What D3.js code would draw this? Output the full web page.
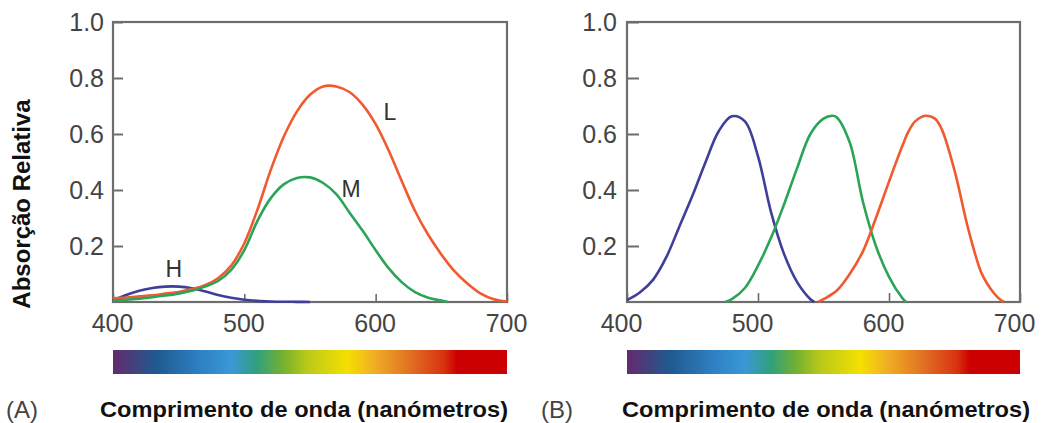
<!DOCTYPE html>
<html>
<head>
<meta charset="utf-8">
<script src="https://cdn.jsdelivr.net/npm/d3@7"></script>
<style>
  body { margin: 0; background: #fff; }
  svg { display: block; font-family: "Liberation Sans", Arial, sans-serif; }
</style>
</head>
<body>
<div id="chart"></div>
<script>
// panel A: absorption curves of the three pigments (H, M, L)
const hWave = [400, 410, 420, 430, 440, 450, 460, 470, 480, 490, 500, 510, 520, 530, 540, 550];
const hAbs  = [0.005, 0.025, 0.04, 0.05, 0.055, 0.055, 0.049, 0.038, 0.025, 0.015, 0.008, 0.004, 0.002, 0.001, 0.0005, 0];

const mWave = [400, 410, 420, 430, 440, 450, 460, 470, 480, 490, 500, 510, 520, 530, 540, 550, 560, 570, 580, 590, 600, 610, 620, 630, 640, 650, 655];
const mAbs  = [0.005, 0.008, 0.012, 0.017, 0.023, 0.03, 0.04, 0.055, 0.075, 0.115, 0.185, 0.29, 0.37, 0.42, 0.443, 0.445, 0.425, 0.385, 0.32, 0.255, 0.185, 0.12, 0.07, 0.035, 0.015, 0.005, 0];

const lWave = [400, 410, 420, 430, 440, 450, 460, 470, 480, 490, 500, 510, 520, 530, 540, 550, 560, 570, 580, 590, 600, 610, 620, 630, 640, 650, 660, 670, 680, 690, 700];
const lAbs  = [0.013, 0.016, 0.02, 0.024, 0.03, 0.036, 0.046, 0.06, 0.085, 0.13, 0.21, 0.33, 0.47, 0.59, 0.68, 0.74, 0.77, 0.77, 0.75, 0.705, 0.635, 0.54, 0.43, 0.325, 0.24, 0.17, 0.11, 0.065, 0.03, 0.01, 0.002];

// panel B: three idealised receptors
const bWave = [400, 410, 420, 430, 440, 450, 460, 470, 480, 490, 500, 510, 520, 530, 540, 543];
const bAbs  = [0.007, 0.035, 0.08, 0.16, 0.27, 0.38, 0.5, 0.61, 0.663, 0.645, 0.52, 0.32, 0.17, 0.07, 0.01, 0];

const gWave = [475, 480, 490, 500, 510, 520, 530, 540, 550, 557, 560, 570, 580, 590, 600, 610, 613];
const gAbs  = [0, 0.01, 0.05, 0.13, 0.23, 0.35, 0.48, 0.6, 0.655, 0.665, 0.66, 0.57, 0.36, 0.2, 0.09, 0.015, 0];

const rWave = [546, 550, 560, 570, 580, 590, 600, 610, 615, 620, 628, 635, 640, 650, 660, 670, 675, 680, 685, 688];
const rAbs  = [0, 0.01, 0.04, 0.1, 0.18, 0.3, 0.43, 0.555, 0.61, 0.645, 0.665, 0.655, 0.62, 0.47, 0.27, 0.11, 0.065, 0.032, 0.008, 0];

const xTicks = [400, 500, 600, 700];
const yTicks = [0.2, 0.4, 0.6, 0.8, 1.0];

// letters next to the curves of panel A
const curveLabels = ["L", "M", "H"];
const labelWave = [606, 574, 440];
const labelAbs = [0.65, 0.376, 0.09];

// spectrum bar colours
const spectrumStops = [0, 0.11, 0.22, 0.30, 0.365, 0.43, 0.49, 0.594, 0.66, 0.755, 0.84, 0.873, 1];
const spectrumColors = ["#652a6c", "#1f5a90", "#2e80c2", "#3a98d6", "#30a07e", "#72b032", "#b8c81a", "#f5e000", "#f0b024", "#e07022", "#d83210", "#cc0000", "#cc0000"];

const width = 1043, height = 423;
const red = "#f15a2e", green = "#2aa556", blue = "#3e3f98";

const svg = d3.select("#chart").append("svg")
  .attr("width", width)
  .attr("height", height);

const grad = svg.append("defs").append("linearGradient")
  .attr("id", "spectrum")
  .attr("x1", "0%").attr("x2", "100%").attr("y1", "0%").attr("y2", "0%");
grad.selectAll("stop")
  .data(spectrumStops)
  .join("stop")
  .attr("offset", d => d)
  .attr("stop-color", (d, i) => spectrumColors[i]);

function drawPanel(opt) {
  const x = d3.scaleLinear().domain([400, 700]).range([opt.left, opt.right]);
  const y = d3.scaleLinear().domain([0, 1]).range([302, 22]);

  const g = svg.append("g");

  // x axis, ticks pointing inside
  g.append("g")
    .attr("transform", `translate(0,${y(0)})`)
    .call(d3.axisBottom(x).tickValues(xTicks).tickFormat(d3.format("d")).tickSize(-opt.xTick).tickPadding(12))
    .call(a => a.select(".domain").remove())
    .call(a => a.selectAll("line").attr("stroke", "#6d6d6d").attr("stroke-width", 1.6))
    .call(a => a.selectAll("text").attr("font-size", 25).attr("fill", "#444").attr("dx", opt.xdx));

  // y axis
  g.append("g")
    .attr("transform", `translate(${x(400)},0)`)
    .call(d3.axisLeft(y).tickValues(yTicks).tickFormat(d3.format(".1f")).tickSize(-opt.yTick).tickPadding(opt.ypad))
    .call(a => a.select(".domain").remove())
    .call(a => a.selectAll("line").attr("stroke", "#6d6d6d").attr("stroke-width", 2))
    .call(a => a.selectAll("text").attr("font-size", 25).attr("fill", "#444"));

  // frame
  g.append("rect")
    .attr("x", x(400)).attr("y", y(1))
    .attr("width", x(700) - x(400)).attr("height", y(0) - y(1))
    .attr("fill", "none").attr("stroke", "#6d6d6d").attr("stroke-width", 2.2);

  const line = d3.line()
    .x(d => x(d[0]))
    .y(d => y(d[1]))
    .curve(d3.curveCatmullRom.alpha(0.5));

  opt.series.forEach(s => {
    g.append("path")
      .datum(d3.zip(s.wave, s.abs))
      .attr("fill", "none")
      .attr("stroke", s.color)
      .attr("stroke-width", 2.6)
      .attr("d", line);
  });

  // spectrum bar under the plot
  g.append("rect")
    .attr("x", x(400)).attr("y", 350)
    .attr("width", x(700) - x(400)).attr("height", 24)
    .attr("fill", "url(#spectrum)");

  g.append("text")
    .attr("x", opt.tagX).attr("y", 418)
    .attr("font-size", 24).attr("fill", "#444")
    .text(opt.tag);

  g.append("text")
    .attr("x", opt.titleX).attr("y", 417)
    .attr("font-size", 22).attr("font-weight", "bold").attr("fill", "#111")
    .attr("textLength", 408).attr("lengthAdjust", "spacingAndGlyphs")
    .text("Comprimento de onda (nanómetros)");

  return { g, x, y };
}

const A = drawPanel({
  left: 113, right: 507, xTick: 8, yTick: 10, ypad: 9, xdx: -1,
  tag: "(A)", tagX: 6, titleX: 100,
  series: [
    { wave: hWave, abs: hAbs, color: blue },
    { wave: lWave, abs: lAbs, color: red },
    { wave: mWave, abs: mAbs, color: green }
  ]
});

A.g.selectAll(".curve-label")
  .data(curveLabels)
  .join("text")
  .attr("class", "curve-label")
  .attr("x", (d, i) => A.x(labelWave[i]))
  .attr("y", (d, i) => A.y(labelAbs[i]))
  .attr("font-size", 23)
  .attr("fill", "#333")
  .text(d => d);

drawPanel({
  left: 627, right: 1020, xTick: 9, yTick: 12, ypad: 10, xdx: -6,
  tag: "(B)", tagX: 541, titleX: 622,
  series: [
    { wave: bWave, abs: bAbs, color: blue },
    { wave: gWave, abs: gAbs, color: green },
    { wave: rWave, abs: rAbs, color: red }
  ]
});

// shared y title (only on panel A)
svg.append("text")
  .attr("transform", "translate(30,204) rotate(-90)")
  .attr("text-anchor", "middle")
  .attr("font-size", 24)
  .attr("font-weight", "bold")
  .attr("fill", "#111")
  .text("Absorção Relativa");
</script>
</body>
</html>
